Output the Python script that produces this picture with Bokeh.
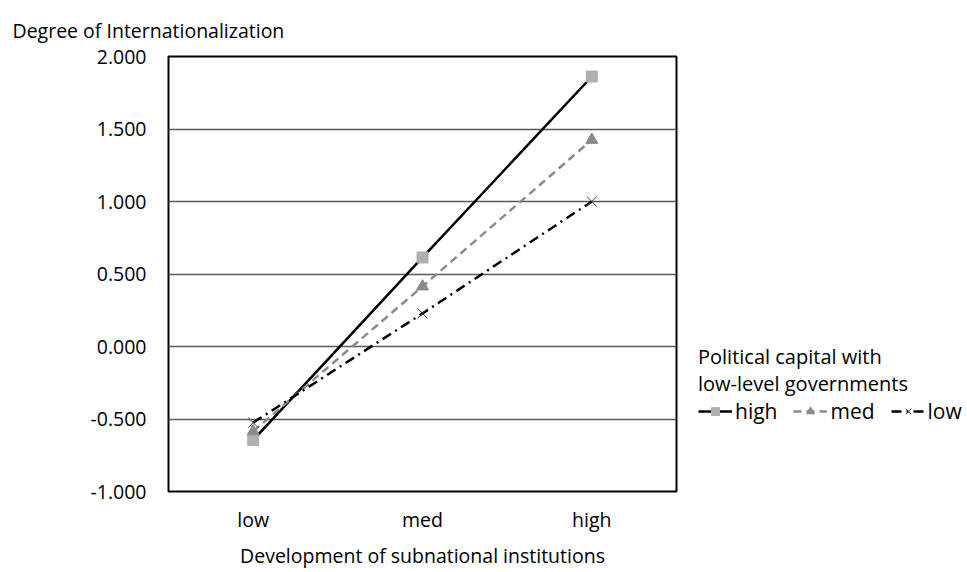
from bokeh.plotting import figure
from bokeh.models import (FactorRange, Range1d, FixedTicker, NumeralTickFormatter,
                          Legend, LegendItem, Title)
from bokeh.embed import file_html
from bokeh.resources import INLINE

categories = ["low", "med", "high"]
series_names = ["high", "med", "low"]
high_vals = [-0.645, 0.614, 1.862]
med_vals = [-0.585, 0.414, 1.425]
low_vals = [-0.525, 0.228, 1.000]
y_ticks = [-1.0, -0.5, 0.0, 0.5, 1.0, 1.5, 2.0]

FONT = "Open Sans"

p = figure(frame_width=508, frame_height=435, x_range=FactorRange(*categories, range_padding=0),
           y_range=Range1d(-1.0, 2.0), output_backend="svg", toolbar_location=None,
           min_border_left=168, min_border_right=0, min_border_top=56, min_border_bottom=81)

p.background_fill_color = "white"
p.border_fill_color = "white"
p.outline_line_color = "black"
p.outline_line_width = 2
p.xgrid.grid_line_color = None
p.ygrid.grid_line_color = "#5a5a5a"
p.ygrid.grid_line_width = 1.3
p.yaxis.ticker = FixedTicker(ticks=y_ticks)
p.yaxis.formatter = NumeralTickFormatter(format="0.000")

for ax in (p.xaxis[0], p.yaxis[0]):
    ax.axis_line_color = None
    ax.major_tick_line_color = None
    ax.minor_tick_line_color = None
    ax.major_label_text_font = FONT
    ax.major_label_text_font_size = "19.5px"
    ax.major_label_text_color = "black"
p.yaxis.major_label_standoff = 16
p.xaxis.major_label_standoff = 8
p.xaxis.axis_label = "Development of subnational institutions"
p.xaxis.axis_label_text_font = FONT
p.xaxis.axis_label_text_font_size = "19.5px"
p.xaxis.axis_label_text_font_style = "normal"
p.xaxis.axis_label_text_color = "black"
p.xaxis.axis_label_standoff = 6

p.title = Title(text="Degree of Internationalization", align="left", offset=-156,
                standoff=26, text_font=FONT, text_font_size="19.5px",
                text_font_style="normal", text_color="black")

r_high_l = p.line(categories, high_vals, line_color="black", line_width=2.5)
r_high_m = p.scatter(categories, high_vals, marker="square", size=11,
                     fill_color="#b0b0b0", line_color="#b0b0b0")
r_med_l = p.line(categories, med_vals, line_color="#8a8a8a", line_width=2.5, line_dash="8 5")
r_med_m = p.scatter(categories, med_vals, marker="triangle", size=12,
                    fill_color="#8a8a8a", line_color="#8a8a8a")
r_low_l = p.line(categories, low_vals, line_color="black", line_width=2.5, line_dash="10 5 2 5")
r_low_m = p.scatter(categories, low_vals, marker="x", size=14,
                    line_color="#404040", line_width=1)

legend = Legend(items=[
    LegendItem(label=series_names[0], renderers=[r_high_l, r_high_m]),
    LegendItem(label=series_names[1], renderers=[r_med_l, r_med_m]),
    LegendItem(label=series_names[2], renderers=[r_low_l, r_low_m]),
], orientation="horizontal", location=(22, 66))
legend.title = "Political capital with\nlow-level governments"
legend.title_text_font = FONT
legend.title_text_font_size = "20px"
legend.title_text_font_style = "normal"
legend.title_text_color = "black"
legend.title_standoff = 0
legend.label_text_font = FONT
legend.label_text_font_size = "21px"
legend.label_text_color = "black"
legend.glyph_width = 34
legend.label_standoff = 3
legend.spacing = 16
legend.padding = 0
legend.margin = 0
legend.border_line_color = None
legend.background_fill_alpha = 0
p.add_layout(legend, "right")

open("out.html", "w").write(file_html(p, INLINE))
